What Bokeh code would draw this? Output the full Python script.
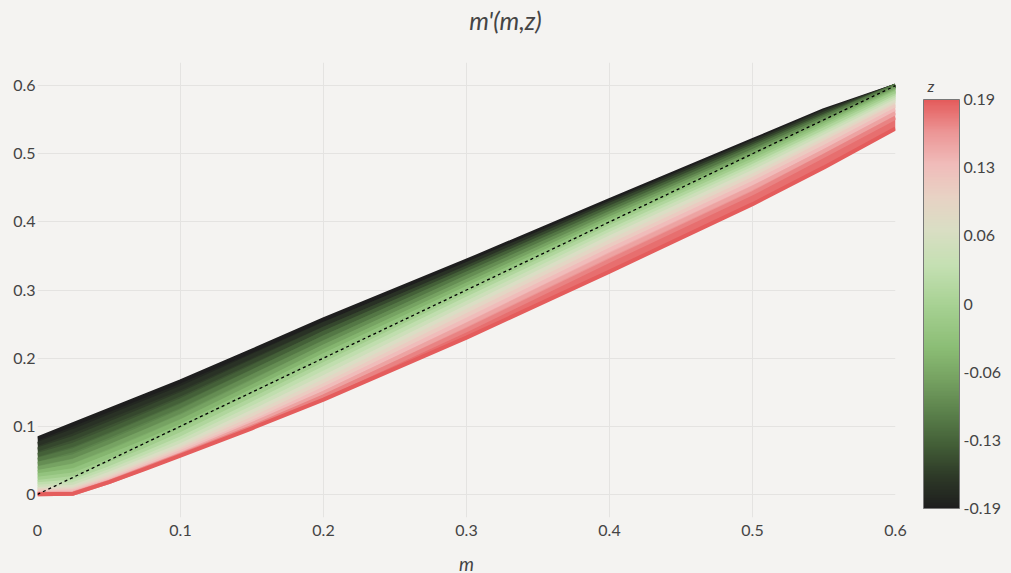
import numpy as np
from bokeh.plotting import figure
from bokeh.layouts import row, column
from bokeh.models import ColorBar, LinearColorMapper, FixedTicker, CustomJSTickFormatter
from bokeh.core.properties import value
from bokeh.embed import file_html
from bokeh.resources import INLINE

# ---- data ----
m_vals = [0.0, 0.025, 0.05, 0.075, 0.1, 0.15, 0.2, 0.3, 0.4, 0.5, 0.55, 0.6]
z_vals = [-0.19, -0.17, -0.15, -0.13, -0.11, -0.09, -0.07, -0.05, -0.03, -0.01,
          0.01, 0.03, 0.05, 0.07, 0.09, 0.11, 0.13, 0.15, 0.17, 0.19]

mp_zn19 = [0.082, 0.103, 0.124, 0.145, 0.166, 0.211, 0.257, 0.343, 0.432, 0.520, 0.564, 0.600]
mp_zn17 = [0.074, 0.093, 0.114, 0.135, 0.156, 0.203, 0.250, 0.338, 0.428, 0.517, 0.562, 0.600]
mp_zn15 = [0.066, 0.083, 0.104, 0.125, 0.147, 0.195, 0.243, 0.333, 0.425, 0.514, 0.559, 0.600]
mp_zn13 = [0.058, 0.073, 0.094, 0.116, 0.138, 0.187, 0.237, 0.329, 0.421, 0.511, 0.556, 0.600]
mp_zn11 = [0.051, 0.065, 0.086, 0.108, 0.130, 0.180, 0.230, 0.324, 0.417, 0.508, 0.554, 0.600]
mp_zn09 = [0.045, 0.056, 0.077, 0.099, 0.122, 0.173, 0.223, 0.319, 0.413, 0.504, 0.551, 0.598]
mp_zn07 = [0.038, 0.049, 0.070, 0.092, 0.114, 0.165, 0.217, 0.313, 0.409, 0.501, 0.548, 0.596]
mp_zn05 = [0.033, 0.042, 0.062, 0.084, 0.107, 0.158, 0.210, 0.308, 0.405, 0.497, 0.545, 0.593]
mp_zn03 = [0.028, 0.035, 0.056, 0.077, 0.100, 0.152, 0.204, 0.303, 0.401, 0.494, 0.542, 0.591]
mp_zn01 = [0.023, 0.029, 0.049, 0.071, 0.094, 0.145, 0.197, 0.298, 0.396, 0.490, 0.539, 0.589]
mp_zp01 = [0.018, 0.024, 0.044, 0.065, 0.088, 0.139, 0.191, 0.292, 0.392, 0.486, 0.536, 0.586]
mp_zp03 = [0.015, 0.019, 0.038, 0.060, 0.082, 0.133, 0.185, 0.287, 0.387, 0.482, 0.532, 0.583]
mp_zp05 = [0.011, 0.015, 0.034, 0.055, 0.077, 0.127, 0.178, 0.281, 0.382, 0.478, 0.529, 0.580]
mp_zp07 = [0.008, 0.011, 0.030, 0.051, 0.072, 0.121, 0.172, 0.275, 0.377, 0.473, 0.525, 0.577]
mp_zp09 = [0.006, 0.008, 0.026, 0.047, 0.068, 0.116, 0.166, 0.269, 0.371, 0.468, 0.520, 0.573]
mp_zp11 = [0.004, 0.006, 0.023, 0.044, 0.065, 0.111, 0.160, 0.263, 0.365, 0.463, 0.516, 0.570]
mp_zp13 = [0.002, 0.004, 0.021, 0.041, 0.062, 0.106, 0.155, 0.256, 0.359, 0.457, 0.510, 0.565]
mp_zp15 = [0.001, 0.002, 0.019, 0.039, 0.059, 0.103, 0.149, 0.249, 0.351, 0.450, 0.504, 0.560]
mp_zp17 = [0.000, 0.001, 0.018, 0.038, 0.058, 0.099, 0.144, 0.241, 0.343, 0.442, 0.497, 0.553]
mp_zp19 = [0.000, 0.001, 0.018, 0.037, 0.057, 0.097, 0.139, 0.230, 0.327, 0.426, 0.480, 0.537]

identity_m = [0.0, 0.6]

axis_ticks = [0, 0.1, 0.2, 0.3, 0.4, 0.5, 0.6]
cb_ticks = [-0.19, -0.12667, -0.06333, 0.0, 0.06333, 0.12667, 0.19]

chart_title = "m'(m,z)"
x_title = "m"
cb_title = "z"

curves = [mp_zn19, mp_zn17, mp_zn15, mp_zn13, mp_zn11, mp_zn09, mp_zn07, mp_zn05,
          mp_zn03, mp_zn01, mp_zp01, mp_zp03, mp_zp05, mp_zp07, mp_zp09, mp_zp11,
          mp_zp13, mp_zp15, mp_zp17, mp_zp19]

# ---- colour scale (style) ----
stops_z = [-0.19, -0.16, -0.13, -0.10, -0.07, -0.04, 0.0, 0.035, 0.07, 0.10, 0.13, 0.16, 0.19]
stops_rgb = np.array([(30, 30, 30), (46, 58, 40), (68, 96, 56), (92, 130, 76), (118, 162, 98),
                      (140, 190, 118), (168, 210, 148), (196, 224, 178), (218, 222, 196),
                      (232, 210, 196), (240, 188, 186), (236, 150, 150), (228, 92, 92)], float)


def zcolor(z):
    r, g, b = (int(round(np.interp(z, stops_z, stops_rgb[:, k]))) for k in range(3))
    return "#%02x%02x%02x" % (r, g, b)


palette = [zcolor(v) for v in np.linspace(-0.19, 0.19, 256)]

BG = "#f4f3f1"
FONT = "Lato"
TXT = "#444444"
TOP_H = 40
MAIN_W = 910            # frame 37..895 plus a little right margin for the "0.6" label
FR_TOP, FR_BOT = 62, 517


def blank_fig(w, h, xr, yr):
    f = figure(width=w, height=h, x_range=xr, y_range=yr, output_backend="svg",
               toolbar_location=None, x_axis_location=None, y_axis_location=None,
               min_border=0, min_border_left=0, min_border_right=0,
               min_border_top=0, min_border_bottom=0)
    f.background_fill_color = BG
    f.border_fill_color = BG
    f.outline_line_color = None
    f.grid.visible = False
    return f


# ---- title strip ----
t = blank_fig(1011, TOP_H, (0, 1011), (TOP_H, 0))
t.text(x=[505], y=[19], text=[chart_title], text_font=value(FONT), text_font_style="italic",
       text_font_size="25px", text_color=TXT, text_align="center", text_baseline="middle")

# ---- main plot ----
p = figure(frame_width=858, frame_height=FR_BOT - FR_TOP, x_range=(0, 0.6), y_range=(-0.034, 0.634),
           output_backend="svg", toolbar_location=None,
           min_border_left=37, min_border_right=MAIN_W - 895,
           min_border_top=FR_TOP - TOP_H, min_border_bottom=573 - FR_BOT)
p.background_fill_color = BG
p.border_fill_color = BG
p.outline_line_color = None

fmt = CustomJSTickFormatter(code="return Math.abs(tick) < 1e-9 ? '0' : tick.toFixed(1);")
for ax in (p.xaxis[0], p.yaxis[0]):
    ax.ticker = FixedTicker(ticks=axis_ticks)
    ax.formatter = fmt
    ax.axis_line_color = None
    ax.major_tick_line_color = None
    ax.minor_tick_line_color = None
    ax.major_tick_out = 0
    ax.major_tick_in = 0
    ax.minor_tick_out = 0
    ax.major_label_text_font = FONT
    ax.major_label_text_font_size = "16px"
    ax.major_label_text_color = TXT
    ax.axis_label_text_font = FONT
    ax.axis_label_text_font_style = "italic"
    ax.axis_label_text_font_size = "19px"
    ax.axis_label_text_color = TXT
p.xaxis.major_label_standoff = 7
p.yaxis.major_label_standoff = 2
p.xaxis.axis_label = x_title
p.xaxis.axis_label_standoff = 13

p.xgrid.ticker = FixedTicker(ticks=axis_ticks)
p.ygrid.ticker = FixedTicker(ticks=axis_ticks)
for g in (p.xgrid[0], p.ygrid[0]):
    g.grid_line_color = "#e4e3e1"
    g.grid_line_width = 1

# filled bands between neighbouring z curves
for i in range(len(curves) - 1):
    zc = 0.5 * (z_vals[i] + z_vals[i + 1])
    p.varea(x=m_vals, y1=curves[i], y2=curves[i + 1], fill_color=zcolor(zc), fill_alpha=1.0)
# the z curves themselves
for i, c in enumerate(curves):
    p.line(m_vals, c, line_width=4, line_color=zcolor(z_vals[i]), line_join="round", line_cap="butt")

p.line(identity_m, identity_m, line_color="black", line_width=1.3, line_dash="3 3")

# ---- colour bar panel (its frame is aligned with the main frame; ranges in page pixels) ----
SIDE_W = 1011 - MAIN_W
s = blank_fig(SIDE_W, 573 - TOP_H, (MAIN_W, 1011), (FR_BOT, FR_TOP))
s.text(x=[927], y=[85], text=[cb_title], text_font=value(FONT), text_font_style="italic",
       text_font_size="16px", text_color=TXT, text_align="left", text_baseline="middle")

mapper = LinearColorMapper(palette=palette, low=-0.19, high=0.19)
cb = ColorBar(color_mapper=mapper, width=36, height=409, location=(923 - MAIN_W, FR_BOT - 507 - 5),
              padding=0, margin=0,
              ticker=FixedTicker(ticks=cb_ticks),
              formatter=CustomJSTickFormatter(code="return Math.abs(tick) < 1e-9 ? '0' : tick.toFixed(2);"),
              major_tick_line_color=None, minor_tick_line_color=None,
              major_label_text_font=FONT, major_label_text_font_size="16px",
              major_label_text_color=TXT, label_standoff=4,
              bar_line_color="#777777", bar_line_width=1,
              background_fill_alpha=0, border_line_color=None)
s.add_layout(cb)

layout = column(t, row(p, s, spacing=0), spacing=0)
layout.styles = {"background-color": BG}

open("out.html", "w").write(file_html(layout, INLINE))
